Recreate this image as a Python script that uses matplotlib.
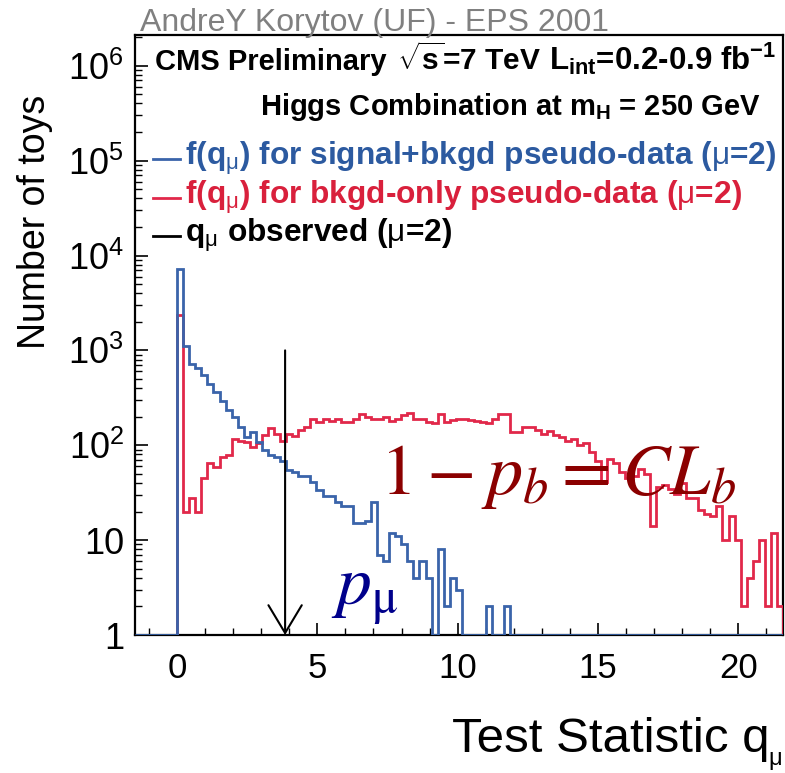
import numpy as np
import matplotlib.pyplot as plt
from matplotlib.ticker import NullFormatter

plt.rcParams['font.family'] = 'Liberation Sans'
plt.rcParams['mathtext.fontset'] = 'custom'
plt.rcParams['mathtext.rm'] = 'Liberation Sans'
plt.rcParams['mathtext.it'] = 'Liberation Sans:italic'
plt.rcParams['mathtext.bf'] = 'Liberation Sans:bold'

# toy histogram binning (100 bins in q_mu)
q_lo, q_hi, n_bins = 0.0, 21.6, 100

# f(q_mu) for signal+bkgd pseudo-data
sig_counts = [7200, 1120, 725, 645, 550, 447, 363, 295, 234, 200,
              155, 123, 138, 107, 89, 78, 76, 69, 55, 52,
              48, 47, 41, 34, 29, 29, 25, 23, 23, 15,
              15, 16, 25, 7, 6, 12, 11, 9, 6, 4,
              6, 4, 0, 8, 2, 4, 3, 0, 0, 0,
              0, 2, 0, 0, 2, 0, 0, 0, 0, 0,
              0, 0, 0, 0, 0, 0, 0, 0, 0, 0,
              0, 0, 0, 0, 0, 0, 0, 0, 0, 0,
              0, 0, 0, 0, 0, 0, 0, 0, 0, 0,
              0, 0, 0, 0, 0, 0, 0, 0, 0, 0]

# f(q_mu) for bkgd-only pseudo-data
bkg_counts = [2340, 20, 28, 20, 45, 65, 59, 76, 78, 117,
              112, 107, 95, 105, 129, 151, 132, 112, 132, 126,
              145, 155, 190, 178, 190, 182, 190, 178, 178, 190,
              214, 200, 190, 190, 200, 182, 190, 209, 219, 190,
              190, 178, 170, 214, 178, 186, 190, 190, 186, 182,
              178, 170, 190, 214, 214, 138, 138, 155, 155, 145,
              132, 141, 129, 123, 112, 117, 100, 105, 85, 69,
              41, 72, 65, 52, 45, 48, 56, 50, 14, 36,
              38, 35, 31, 40, 28, 28, 21, 19, 18, 23,
              10, 18, 10, 2, 4, 6, 10, 2, 12, 2]

q_observed = 3.85
obs_top = 1000

x_ticks = [0, 5, 10, 15, 20]
y_ticks = [1, 10, 1e2, 1e3, 1e4, 1e5, 1e6]
y_ticklabels = ['1', '10', r'$10^{2}$', r'$10^{3}$', r'$10^{4}$', r'$10^{5}$', r'$10^{6}$']

BLUE = '#3a64aa'
RED = '#e1284a'
BLUE_TXT = '#2c5aa0'
RED_TXT = '#d9203c'

edges = np.linspace(q_lo, q_hi, n_bins + 1)
sig = np.maximum(np.array(sig_counts, dtype=float), 1)
bkg = np.maximum(np.array(bkg_counts, dtype=float), 1)
x_min = -1.5

fig = plt.figure(figsize=(7.85, 7.73), dpi=100)
ax = fig.add_axes([0.172, 0.1785, 0.8255, 0.776])
ax.set_yscale('log')

ax.stairs(bkg, edges, baseline=1, color=RED, lw=2, zorder=3)
ax.stairs(np.concatenate([[1], sig]), np.concatenate([[x_min], edges]),
          baseline=None, color=BLUE, lw=2, zorder=4)

# observed q_mu
ax.annotate('', xy=(q_observed, 1), xytext=(q_observed, obs_top),
            arrowprops=dict(arrowstyle='->,head_length=1.0,head_width=0.6',
                            lw=1.5, color='black', shrinkA=0, shrinkB=0,
                            mutation_scale=20), zorder=5)

ax.set_xlim(x_min, q_hi)
ax.set_ylim(1, 2.1e6)
ax.set_xticks(x_ticks)
ax.set_xticklabels([str(t) for t in x_ticks], fontsize=25)
ax.set_xticks(np.arange(-1, 22), minor=True)
ax.set_yticks(y_ticks)
ax.set_yticklabels(y_ticklabels, fontsize=26)
ax.yaxis.set_minor_formatter(NullFormatter())
ax.tick_params(which='both', direction='in', top=False, right=False)
ax.tick_params(which='major', length=9, width=1.2)
ax.tick_params(which='minor', length=5, width=1)
ax.tick_params(axis='x', pad=12)
ax.tick_params(axis='y', pad=8)
for s in ax.spines.values():
    s.set_linewidth(1.6)

# header texts
tr = ax.transAxes
ax.text(0.031, 0.942, 'CMS Preliminary', transform=tr, fontsize=21, fontweight='bold')
ax.text(0.404, 0.942, r'$\mathbf{\sqrt{s}}$=7 TeV', transform=tr, fontsize=21.5, fontweight='bold')
ax.text(0.639, 0.942, r'L$_{\mathbf{int}}$=0.2-0.9 fb$^{\mathbf{-1}}$', transform=tr,
        fontsize=22.5, fontweight='bold')
ax.text(0.965, 0.867, r'Higgs Combination at m$_{\mathbf{H}}$ = 250 GeV', transform=tr,
        fontsize=21, fontweight='bold', ha='right')

# legend
leg = [(r'f(q$_{\mathrm{\mu}}$) for signal+bkgd pseudo-data ($\mathrm{\mu}$=2)', BLUE, BLUE_TXT, 0.783),
       (r'f(q$_{\mathrm{\mu}}$) for bkgd-only pseudo-data ($\mathrm{\mu}$=2)', RED, RED_TXT, 0.718),
       (r'q$_{\mathrm{\mu}}$ observed ($\mathrm{\mu}$=2)', 'black', 'black', 0.655)]
for label, lc, tc, yb in leg:
    ax.plot([0.028, 0.069], [yb + 0.01, yb + 0.01], transform=tr, color=lc, lw=2)
    ax.text(0.077, yb, label, transform=tr, fontsize=22.8, fontweight='bold', color=tc)

# annotations on the plot
ax.text(0.378, 0.235, r'$1-p_b=CL_b$', transform=tr, fontsize=52,
        color='#8b0000', math_fontfamily='stix')
ax.text(0.302, 0.05, r'$p_{\mathrm{\mu}}$', transform=tr, fontsize=50,
        color='#00008b', math_fontfamily='stix')

fig.text(140 / 785, 1 - 31 / 773, 'AndreY Korytov (UF) - EPS 2001', fontsize=23,
         color='#808080')
fig.text(35 / 785, 1 - 222 / 773, 'Number of toys', rotation=90, ha='center', va='center',
         fontsize=27)
fig.text(452 / 785, 1 - 752 / 773, 'Test Statistic q', fontsize=35.5)
fig.text(768 / 785, 1 - 765 / 773, r'$\mathrm{\mu}$', fontsize=17)

fig.savefig('out.png', dpi=100)
